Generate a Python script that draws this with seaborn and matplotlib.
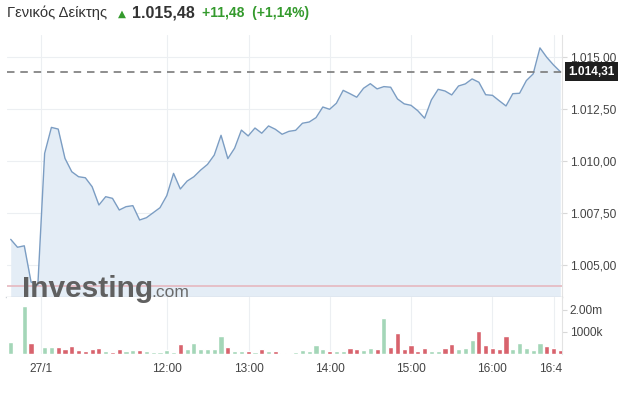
import numpy as np
import pandas as pd
import matplotlib
matplotlib.use("Agg")
import matplotlib.pyplot as plt
import seaborn as sns
from matplotlib.ticker import FixedLocator, FuncFormatter, FixedFormatter
from matplotlib.transforms import Bbox, TransformedBbox

# ---------------- data ----------------
price = [1006.25, 1005.87, 1005.94, 1004.20, 1004.05, 1010.38, 1011.63, 1011.55, 1010.14, 1009.50,
         1009.26, 1009.21, 1008.78, 1007.90, 1008.30, 1008.22, 1007.66, 1007.82, 1007.87, 1007.18,
         1007.29, 1007.53, 1007.77, 1008.35, 1009.42, 1008.67, 1009.05, 1009.26, 1009.58, 1009.85,
         1010.30, 1011.25, 1010.13, 1010.63, 1011.50, 1011.22, 1011.60, 1011.35, 1011.70, 1011.54,
         1011.30, 1011.44, 1011.49, 1011.83, 1011.89, 1012.10, 1012.61, 1012.50, 1012.79, 1013.41,
         1013.25, 1013.08, 1013.51, 1013.73, 1013.48, 1013.59, 1013.56, 1013.00, 1012.76, 1012.69,
         1012.43, 1012.07, 1012.95, 1013.46, 1013.38, 1013.19, 1013.62, 1013.72, 1013.96, 1013.80,
         1013.20, 1013.17, 1012.91, 1012.66, 1013.25, 1013.27, 1013.88, 1014.20, 1015.45, 1015.00,
         1014.63, 1014.31]

volume_m = [0.56, 0.00, 2.18, 0.52, 0.00, 0.30, 0.30, 0.30, 0.21, 0.36,
            0.18, 0.14, 0.21, 0.26, 0.15, 0.08, 0.21, 0.14, 0.17, 0.17,
            0.12, 0.11, 0.09, 0.18, 0.09, 0.44, 0.21, 0.48, 0.21, 0.21,
            0.21, 0.82, 0.30, 0.15, 0.15, 0.12, 0.08, 0.23, 0.12, 0.12,
            0.05, 0.05, 0.11, 0.18, 0.12, 0.40, 0.21, 0.13, 0.12, 0.12,
            0.25, 0.21, 0.16, 0.25, 0.21, 1.64, 0.30, 0.96, 0.21, 0.43,
            0.12, 0.25, 0.12, 0.12, 0.25, 0.45, 0.21, 0.25, 0.63, 1.03,
            0.43, 0.25, 0.21, 0.81, 0.21, 0.48, 0.25, 0.18, 0.48, 0.36,
            0.25, 0.18]

direction = list("gggrrggrrrrrrrgrrggrgggggrggggggrggrgrgrrggggggrggrrggrgrrrrrrggrrgggrrrrrgggggrrr")

time_labels = ["27/1", "12:00", "13:00", "14:00", "15:00", "16:00", "16:45"]
time_pos = [4.45, 23.0, 35.15, 47.05, 59.05, 70.95, 80.1]

price_ticks = [1005.0, 1007.5, 1010.0, 1012.5, 1015.0]
prev_close = 1004.00
last_price = 1014.31

title_name = "Γενικός Δείκτης"
title_price = "1.015,48"
title_change = "+11,48  (+1,14%)"

idx = np.arange(len(price))
df = pd.DataFrame({"idx": idx, "price": price,
                   "volume": np.array(volume_m) * 1e6, "dir": direction})

# ---------------- style ----------------
sns.set_theme(style="white")
plt.rcParams["font.family"] = ["Liberation Sans", "DejaVu Sans"]

W, H = 625, 397
fig = plt.figure(figsize=(W / 100, H / 100), dpi=100)

def fx(px):
    return px / W

def fy(py):
    return 1 - py / H

left_px, right_px = 6.5, 562
ax = fig.add_axes([fx(left_px), fy(297), fx(right_px - left_px), (297 - 35) / H])
axv = fig.add_axes([fx(left_px), fy(354), fx(right_px - left_px), (354 - 297) / H], sharex=ax)

xlim = (-0.62, 81.25)
grid_c = "#eceff2"
line_c = "#7b9dc3"
fill_c = "#e4edf6"
lab_c = "#444444"
green_c = "#a4d6b8"
red_c = "#d8636d"

# price panel
ylo, yhi = 1003.48, 1016.07
ax.fill_between(df["idx"], df["price"], ylo, color=fill_c, lw=0, zorder=1)
sns.lineplot(data=df, x="idx", y="price", ax=ax, color=line_c, lw=1.0, zorder=3)
ax.axhline(prev_close, color="#e6b8bf", lw=1.2, zorder=2)
ax.axhline(last_price, color="#7a7a7a", lw=1.2, ls=(0, (4.5, 3.5)), zorder=4)
ax.set_xlim(*xlim)
ax.set_ylim(ylo, yhi)
ax.yaxis.tick_right()
ax.yaxis.set_major_locator(FixedLocator(price_ticks))
ax.yaxis.set_major_formatter(FuncFormatter(
    lambda v, p: f"{v:,.2f}".replace(",", "X").replace(".", ",").replace("X", ".")))
ax.tick_params(axis="y", which="both", right=True, left=False, length=3.5, width=0.8,
               color="#d8d8d8", pad=2, labelsize=8.6, labelcolor=lab_c)
ax.tick_params(axis="x", bottom=False, labelbottom=False)
ax.set_xlabel("")
ax.set_ylabel("")
ax.grid(True, color=grid_c, lw=0.8)
ax.xaxis.set_major_locator(FixedLocator(time_pos))
for s in ["top", "left"]:
    ax.spines[s].set_visible(False)
ax.spines["bottom"].set_color("#cfd3d8")
ax.spines["bottom"].set_linewidth(1.0)
ax.spines["right"].set_color("#e3e3e3")
ax.spines["right"].set_linewidth(0.8)

# current price label
ax.annotate(f"{last_price:,.2f}".replace(",", "X").replace(".", ",").replace("X", "."),
            xy=(1.0, last_price), xycoords=("axes fraction", "data"),
            xytext=(4.5, 0), textcoords="offset points", va="center", ha="left",
            fontsize=8.6, fontweight="bold", color="white", zorder=10,
            annotation_clip=False,
            bbox=dict(boxstyle="square,pad=0.28", fc="#1e1e1e", ec="none"))

# volume panel
sns.barplot(data=df, x="idx", y="volume", hue="dir", palette={"g": green_c, "r": red_c},
            native_scale=True, dodge=False, width=0.76, errorbar=None, saturation=1,
            legend=False, ax=axv, zorder=3)
axv.set_ylim(0, 2.59e6)
axv.set_xlim(*xlim)
axv.yaxis.tick_right()
axv.yaxis.set_major_locator(FixedLocator([1e6, 2e6]))
axv.yaxis.set_major_formatter(FixedFormatter(["1000k", "2.00m"]))
axv.tick_params(axis="y", right=True, left=False, length=3.5, width=0.8, color="#d8d8d8",
                pad=2, labelsize=8.6, labelcolor=lab_c)
axv.xaxis.set_major_locator(FixedLocator(time_pos))
axv.set_xticklabels(time_labels)
axv.tick_params(axis="x", bottom=False, length=0, pad=6.5, labelsize=8.6, labelcolor=lab_c)
axv.grid(True, axis="x", color=grid_c, lw=0.8, zorder=0)
axv.set_xlabel("")
axv.set_ylabel("")
for s in ["top", "left", "bottom"]:
    axv.spines[s].set_visible(False)
axv.spines["right"].set_color("#e3e3e3")
axv.spines["right"].set_linewidth(0.8)

# clip last time label at plot edge
fig.canvas.draw()
clip = TransformedBbox(Bbox([[0, 0], [fx(right_px), 1]]), fig.transFigure)
lbl = axv.get_xticklabels()[-1]
lbl.set_clip_on(True)
lbl.set_clip_box(clip)

# watermark
fig.text(fx(22), fy(297), "Investing", fontsize=21.5, fontweight="bold", color="#606060",
         va="baseline", ha="left", zorder=20)
fig.text(fx(151), fy(297), ".com", fontsize=12.5, color="#6a6a6a",
         va="baseline", ha="left", zorder=20)

# header
fig.text(fx(7), fy(13), title_name, fontsize=10.6, color="#333333", va="center", ha="left")
fig.text(fx(117.5), fy(14), "▲", fontsize=7.5, color="#349a2d", va="center", ha="left",
         family=["DejaVu Sans"])
fig.text(fx(132), fy(13), title_price, fontsize=11.5, fontweight="bold", color="#333333",
         va="center", ha="left")
fig.text(fx(202), fy(13), title_change, fontsize=10, fontweight="bold", color="#349a2d",
         va="center", ha="left")

fig.savefig("out.png", dpi=100)
